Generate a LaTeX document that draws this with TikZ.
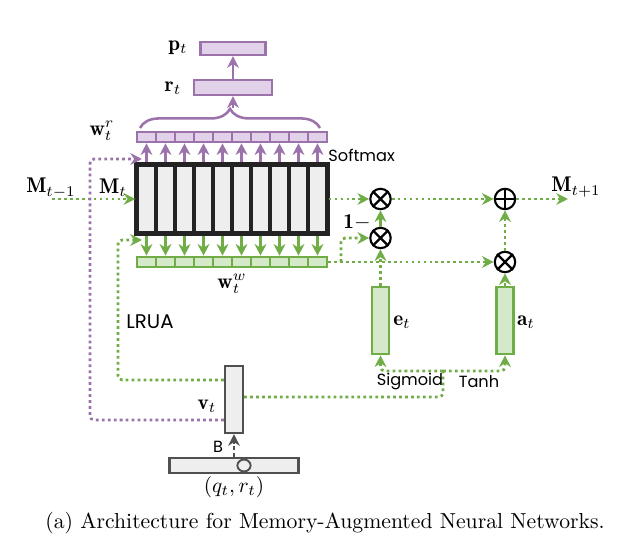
\documentclass[tikz,border=0pt]{standalone}
\usepackage{fontspec}
\usepackage{amsmath}
\usetikzlibrary{arrows.meta,shapes,positioning,decorations.pathreplacing}
\newfontfamily\gothic{Poppins}
\definecolor{purp}{RGB}{155,115,170}
\definecolor{purpfill}{RGB}{226,210,233}
\definecolor{grn}{RGB}{112,173,71}
\definecolor{grnfill}{RGB}{212,232,202}
\definecolor{memfill}{RGB}{238,238,238}
\definecolor{memline}{RGB}{35,35,35}
\definecolor{ctrlline}{RGB}{80,80,80}

\begin{document}
\begin{tikzpicture}[x=0.47pt,y=-0.47pt,
    every node/.style={inner sep=0pt},
    memcol/.style={draw=memline,fill=memfill,line width=1.6pt,minimum width=8.9pt,minimum height=32pt},
    rcell/.style={draw=purp,fill=purpfill,line width=1.2pt,minimum width=8.9pt,minimum height=4.7pt},
    wcell/.style={draw=grn,fill=grnfill,line width=1.2pt,minimum width=8.9pt,minimum height=4.7pt},
    pbox/.style={draw=purp,fill=purpfill,line width=1.1pt},
    gbox/.style={draw=grn,fill=grnfill,line width=1.2pt,minimum width=8pt,minimum height=31.5pt},
    cbox/.style={draw=ctrlline,fill=memfill,line width=1.1pt},
    op/.style={circle,draw=black,line width=1pt,minimum size=9.6pt},
    gdot/.style={grn,line width=1.3pt,dash pattern=on 1.3pt off 1.5pt,rounded corners=2pt},
    pdot/.style={purp,line width=1.3pt,dash pattern=on 1.3pt off 1.5pt,rounded corners=2pt},
    garr/.style={-{Stealth[length=5.5pt,width=5.5pt]},grn,line width=1.1pt},
    parr/.style={-{Stealth[length=5.5pt,width=5.5pt]},purp,line width=1.1pt},
    gtip/.style={-{Stealth[length=5.5pt,width=5.5pt]}},
    lbl/.style={font=\gothic\fontsize{7.6}{9}\selectfont}
  ]
  \useasboundingbox (0,0) rectangle (624,553);

  % memory, read and write weights
  \foreach \i in {0,...,9}{
    \node[memcol] (m\i) at ({146.5+19*\i},199) {};
    \node[rcell] (r\i) at ({146.5+19*\i},137) {};
    \node[wcell] (w\i) at ({146.5+19*\i},262) {};
    \draw[parr] (m\i.north) -- (r\i.south);
    \draw[garr] (m\i.south) -- (w\i.north);
  }
  \draw[memline,line width=1.6pt] (m0.north west) rectangle (m9.south east);

  % read vector and output
  \draw[purp,line width=1.2pt,decorate,decoration={brace,amplitude=9pt}] (140,128) -- (320,128);
  \coordinate (brtip) at (233,108);
  \node[pbox,minimum width=36.7pt,minimum height=7.1pt] (rt) at (233,87.5) {};
  \node[pbox,minimum width=30.6pt,minimum height=6.1pt] (pt) at (233,48.5) {};
  \draw[parr] (brtip) -- (rt.south);
  \draw[parr] (rt.north) -- (pt.south);
  \node (ptl) at (178,48) {$\mathbf{p}_t$};
  \node (rtl) at (173,88) {$\mathbf{r}_t$};
  \node (wrl) at (102,131) {$\mathbf{w}_t^r$};
  \node (wwl) at (232,284) {$\mathbf{w}_t^w$};
  \node[lbl,anchor=west] (smx) at (328,155) {Softmax};

  % memory input
  \coordinate (min) at (52,199);
  \draw[gdot,gtip] (min) -- (m0.west);
  \node (mprev) at (51,188) {$\mathbf{M}_{t-1}$};
  \node (mcur) at (113,188) {$\mathbf{M}_t$};

  % controller and input
  \node[cbox,minimum width=8.5pt,minimum height=31.5pt] (vt) at (234,399.5) {};
  \node[cbox,minimum width=60.6pt,minimum height=7pt] (xin) at (234,465.5) {};
  \node[draw=ctrlline,line width=0.9pt,ellipse,minimum width=6.2pt,minimum height=5.6pt] (xo) at (244,465.5) {};
  \draw[-{Stealth[length=5.5pt,width=5.5pt]},ctrlline,line width=1.1pt,dash pattern=on 2pt off 1pt] (xin.north) -- (vt.south);
  \node[font=\gothic\fontsize{7.6}{9}\selectfont] (bl) at (218,447) {B};
  \node (vtl) at (207,406) {$\mathbf{v}_t$};
  \node (xinl) at (234,487) {$(q_t,r_t)$};

  % read key and LRUA write
  \draw[pdot,gtip] ([yshift=-9.6pt]vt.west) -- (90,420) -- (90,159) -- (142,159);
  \draw[gdot,gtip] ([yshift=9.2pt]vt.west) -- (118,380) -- (118,240) -- (142,240);
  \node[font=\gothic\fontsize{9.3}{11}\selectfont] (lrua) at (150,322) {LRUA};

  % erase and add
  \node[gbox] (et) at (380.5,320.5) {};
  \node[gbox] (at) at (505,320.5) {};
  \node (etl) at (402,322) {$\mathbf{e}_t$};
  \node (atl) at (526,322) {$\mathbf{a}_t$};
  \coordinate (split) at (443,371);
  \draw[gdot] ([yshift=1.2pt]vt.east) -- (443,397) -- (split);
  \draw[gdot,gtip] (split) -- (380.5,371) -- (et.south);
  \draw[gdot,gtip] (split) -- (505,371) -- (at.south);
  \node[lbl] (sig) at (410,382) {Sigmoid};
  \node[lbl] (tanh) at (479,382) {Tanh};

  % memory update
  \node[op] (x1) at (380.5,199) {};
  \node[op] (x2) at (380.5,238) {};
  \node[op] (pl) at (505,199) {};
  \node[op] (x3) at (505,262) {};
  \foreach \n in {x1,x2,x3}{
    \draw[line width=1pt] (\n.north west) -- (\n.south east) (\n.north east) -- (\n.south west);
  }
  \draw[line width=1pt] (pl.north) -- (pl.south) (pl.west) -- (pl.east);
  \coordinate (mout) at (568,199);
  \coordinate (br) at (341,262);
  \draw[gdot,gtip] (m9.east) -- (x1.west);
  \draw[gdot,gtip] (x1.east) -- (pl.west);
  \draw[gdot,gtip] (pl.east) -- (mout);
  \draw[garr] (x2.north) -- (x1.south);
  \draw[gdot,gtip] (et.north) -- (x2.south);
  \draw[gdot,gtip] (w9.east) -- (x3.west);
  \draw[gdot,gtip] (br) -- (341,238) -- (x2.west);
  \draw[gdot,gtip] (at.north) -- (x3.south);
  \draw[gdot,gtip] (x3.north) -- (pl.south);
  \node (onem) at (357,222) {$\mathbf{1-}$};
  \node (mnext) at (576,187) {$\mathbf{M}_{t+1}$};

  \node[font=\fontsize{10.2}{12}\selectfont] (cap) at (325,523) {(a) Architecture for Memory-Augmented Neural Networks.};
\end{tikzpicture}
\end{document}
